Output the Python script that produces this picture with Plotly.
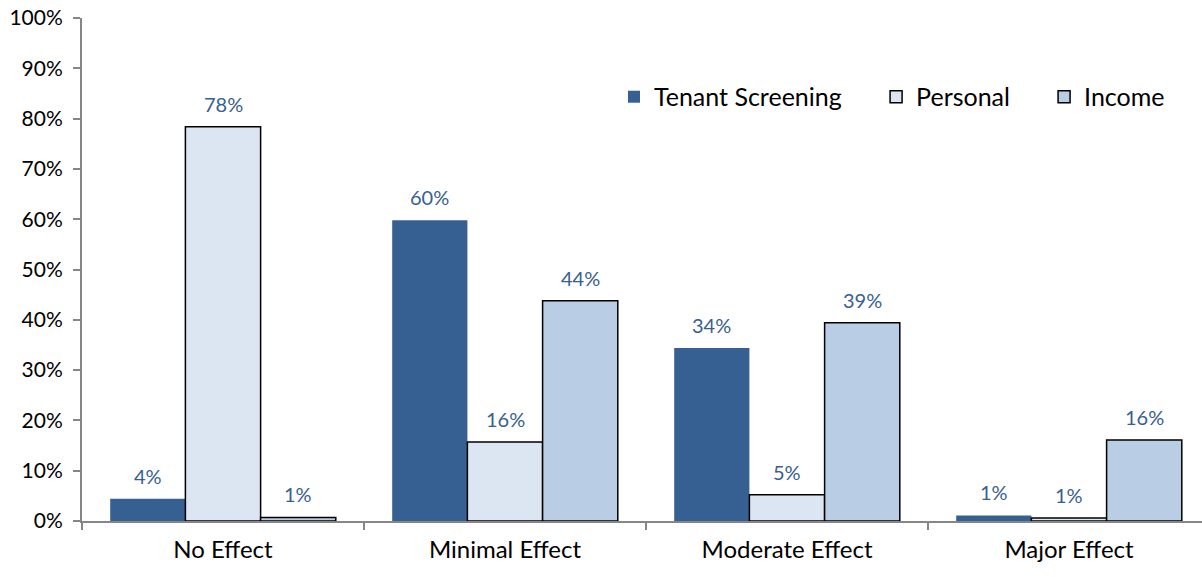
import plotly.graph_objects as go

categories = ["No Effect", "Minimal Effect", "Moderate Effect", "Major Effect"]
series_names = ["Tenant Screening", "Personal", "Income"]
tenant_screening = [0.044, 0.598, 0.344, 0.011]
personal = [0.784, 0.157, 0.052, 0.006]
income = [0.007, 0.438, 0.394, 0.161]

fills = ["#376092", "#DCE6F2", "#B9CDE5"]
outlines = [0, 1.5, 1.5]
legend_ids = ["legend", "legend2", "legend3"]
legend_x = [0.475, 0.709, 0.859]

W, H = 1202, 577
margin = dict(l=82, r=0, t=18, b=56)
bargap = 0.2
cat_px = 282  # the last category runs past the right edge of the picture
plot_w = W - margin["l"] - margin["r"]
x_range = [-0.5, -0.5 + plot_w / cat_px]
bar_px = cat_px * (1 - bargap) / len(series_names)

fig = go.Figure()
annotations = []
for i, (name, vals, fill, lw, lg) in enumerate(zip(
        series_names, [tenant_screening, personal, income], fills, outlines, legend_ids)):
    fig.add_trace(go.Bar(
        name=name, x=categories, y=vals, legend=lg,
        marker=dict(color=fill, line=dict(color="#000000", width=lw)),
    ))
    for cat, v in zip(categories, vals):
        annotations.append(dict(
            x=cat, y=v, xref="x", yref="y", text=f"{round(v * 100)}%",
            showarrow=False, yanchor="bottom", yshift=9,
            xshift=(i - (len(series_names) - 1) / 2) * bar_px,
            font=dict(family="Lato", size=20, color="#376092"),
        ))

legend_style = dict(orientation="h", y=0.843, yanchor="middle", xanchor="left",
                    font=dict(family="Lato", size=25, color="#000000"),
                    bgcolor="rgba(0,0,0,0)", itemwidth=30)
layout_legends = {lg: dict(x=lx, **legend_style) for lg, lx in zip(legend_ids, legend_x)}

fig.update_layout(
    width=W, height=H,
    margin=margin,
    paper_bgcolor="white", plot_bgcolor="white",
    barmode="group", bargap=bargap, bargroupgap=0,
    font=dict(family="Lato", color="#000000"),
    showlegend=True,
    annotations=annotations,
    **layout_legends,
    xaxis=dict(
        range=x_range,
        showline=True, linecolor="#868686", linewidth=2,
        ticks="outside", tickson="boundaries", ticklen=7, tickcolor="#868686", tickwidth=2,
        tickfont=dict(family="Lato", size=24, color="#000000"),
        ticklabelstandoff=6, automargin=False,
        showgrid=False, zeroline=False,
    ),
    yaxis=dict(
        range=[0, 1], dtick=0.1, tickformat=".0%",
        showline=True, linecolor="#868686", linewidth=2,
        ticks="outside", ticklen=7, tickcolor="#868686", tickwidth=2,
        tickfont=dict(family="Lato", size=21, color="#000000"),
        ticklabelstandoff=6, automargin=False, ticklabeloverflow="allow",
        showgrid=False, zeroline=False,
    ),
)

# drop the default page margin so the figure sits at the window's corner
fig.write_html("out.html", config={"displayModeBar": False},
               post_script="document.body.style.margin = '0';")
